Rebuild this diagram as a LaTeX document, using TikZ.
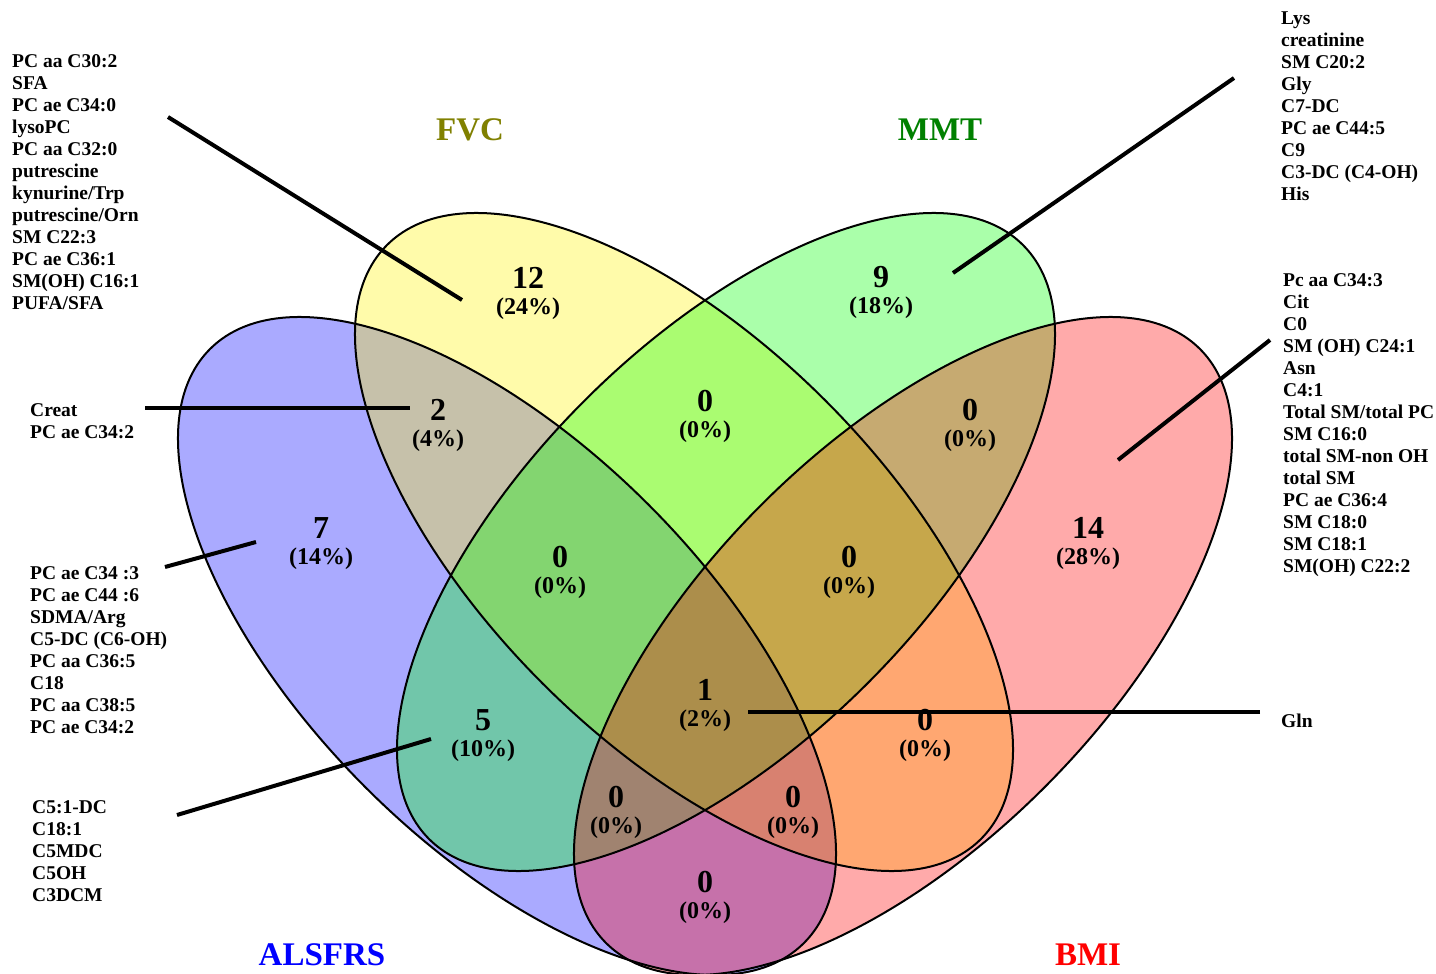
\documentclass[tikz,border=0pt]{standalone}
\usepackage{fontspec}
\setmainfont{Liberation Serif}
\definecolor{fvcColor}{RGB}{128,128,0}
\definecolor{mmtColor}{RGB}{0,128,0}
\begin{document}
\begin{tikzpicture}[x=1pt, y=-1pt, every node/.style={inner sep=0pt}]
			\tikzset{venn/.style={fill opacity=1/3},
				rim/.style={draw=black, line width=2pt},
				cnt/.style={font=\bfseries\fontsize{32}{36}\selectfont},
				pct/.style={font=\bfseries\fontsize{24}{28}\selectfont},
				catname/.style={font=\bfseries\fontsize{33}{38}\selectfont},
				lst/.style={font=\bfseries\fontsize{19.5}{22}\selectfont, align=left, anchor=north west},
				leader/.style={draw=black, line width=4pt}}
			\useasboundingbox (0,0) rectangle (1436,974);
			\fill[venn, blue, rotate around={-45:(507,646)}] (507,646) ellipse (420pt and 200pt);
			\fill[venn, yellow, rotate around={-45:(684,542)}] (684,542) ellipse (420pt and 200pt);
			\fill[venn, green, rotate around={45:(726,542)}] (726,542) ellipse (420pt and 200pt);
			\fill[venn, red, rotate around={45:(903,646)}] (903,646) ellipse (420pt and 200pt);
			\draw[rim, rotate around={-45:(507,646)}] (507,646) ellipse (420pt and 200pt);
			\draw[rim, rotate around={-45:(684,542)}] (684,542) ellipse (420pt and 200pt);
			\draw[rim, rotate around={45:(726,542)}] (726,542) ellipse (420pt and 200pt);
			\draw[rim, rotate around={45:(903,646)}] (903,646) ellipse (420pt and 200pt);
			\node[catname, text=fvcColor] (fvc) at (470,130) {FVC};
			\node[catname, text=mmtColor] (mmt) at (940,130) {MMT};
			\node[catname, text=blue] (alsfrs) at (322,955) {ALSFRS};
			\node[catname, text=red] (bmi) at (1088,955) {BMI};
			\foreach \nm/\px/\py/\num/\pc in {nF/528/278/12/24, nM/881/277/9/18,
				nBF/438/410/2/4, nFM/705/401/0/0, nMR/970/410/0/0,
				nB/321/528/7/14, nBFM/560/557/0/0, nFMR/849/557/0/0, nR/1088/528/14/28,
				nBM/483/720/5/10, nAll/705/690/1/2, nFR/925/720/0/0,
				nBMR/616/797/0/0, nBFR/793/797/0/0, nBR/705/882/0/0}{
				\node[cnt] (\nm) at (\px,\py) {\num};
				\node[pct] (\nm p) at (\px,\py+31) {(\pc\%)};
			}
			\node[lst] (fvcList) at (12,54.5) {PC aa C30:2\\SFA\\PC ae C34:0\\lysoPC\\PC aa C32:0\\putrescine\\kynurine/Trp\\putrescine/Orn\\SM C22:3\\PC ae C36:1\\SM(OH) C16:1\\PUFA/SFA};
			\node[lst] (mmtList) at (1281,12) {Lys\\creatinine\\SM C20:2\\Gly\\C7-DC\\PC ae C44:5\\C9\\C3-DC (C4-OH)\\His};
			\node[lst] (bmiList) at (1283,273.5) {Pc aa C34:3\\Cit\\C0\\SM (OH) C24:1\\Asn\\C4:1\\Total SM/total PC\\SM C16:0\\total SM-non OH\\total SM\\PC ae C36:4\\SM C18:0\\SM C18:1\\SM(OH) C22:2};
			\node[lst] (bfList) at (30,403.5) {Creat\\PC ae C34:2};
			\node[lst] (bList) at (30,566.5) {PC ae C34 :3\\PC ae C44 :6\\SDMA/Arg\\C5-DC (C6-OH)\\PC aa C36:5\\C18\\PC aa C38:5\\PC ae C34:2};
			\node[lst] (bmList) at (32,800.5) {C5:1-DC\\C18:1\\C5MDC\\C5OH\\C3DCM};
			\node[lst] (allList) at (1281,713.5) {Gln};
			\coordinate (fvcA) at (168,117);  \coordinate (fvcB) at (462,300);
			\coordinate (mmtA) at (1234,78);  \coordinate (mmtB) at (953,273);
			\coordinate (bmiA) at (1270,340); \coordinate (bmiB) at (1118,460);
			\coordinate (bfA) at (145,408);   \coordinate (bfB) at (410,408);
			\coordinate (bA) at (165,567);    \coordinate (bB) at (256,542);
			\coordinate (bmA) at (177,815);   \coordinate (bmB) at (431,739);
			\coordinate (allA) at (1260,712); \coordinate (allB) at (748,712);
			\draw[leader] (fvcA) -- (fvcB);
			\draw[leader] (mmtA) -- (mmtB);
			\draw[leader] (bmiA) -- (bmiB);
			\draw[leader] (bfA) -- (bfB);
			\draw[leader] (bA) -- (bB);
			\draw[leader] (bmA) -- (bmB);
			\draw[leader] (allA) -- (allB);
		\end{tikzpicture}
\end{document}
